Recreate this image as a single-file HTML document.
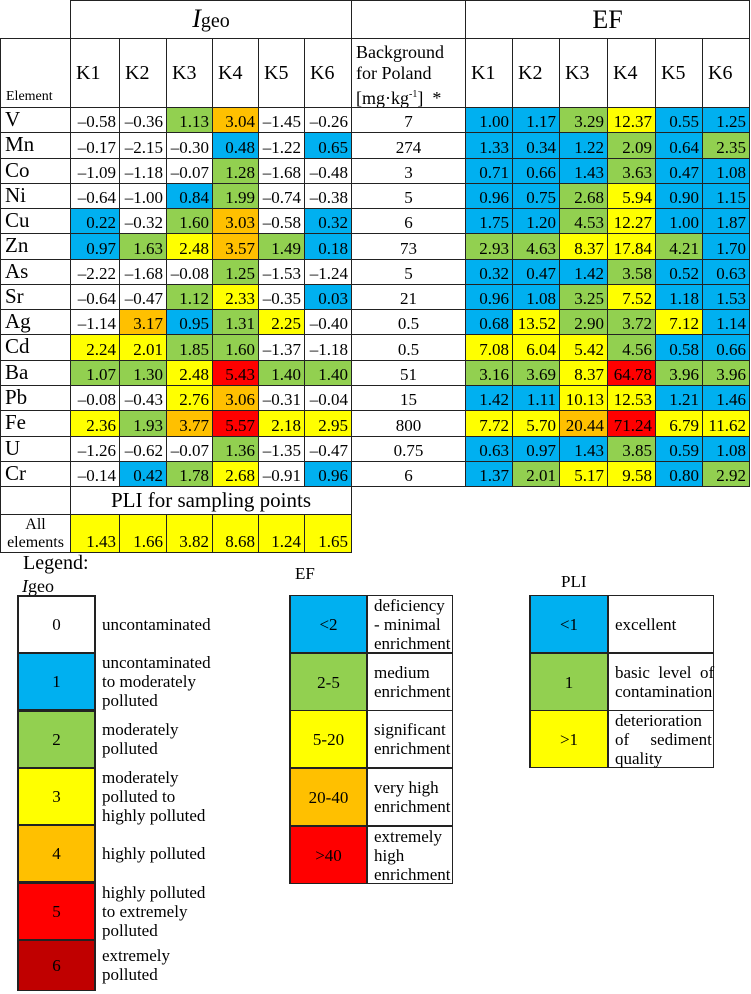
<!DOCTYPE html>
<html><head><meta charset="utf-8">
<style>
body{margin:0;width:751px;height:994px;background:#fff;position:relative;overflow:hidden;font-family:"Liberation Serif",serif;color:#000}
.c{position:absolute;box-sizing:border-box;border:1px solid #222;display:flex;font-size:17px;line-height:1}
.n{justify-content:flex-end;align-items:flex-end;padding:0 3px 2px 0}
.t{position:absolute;font-size:17px;line-height:20px}
.w{background:#fff}.b{background:#00b0f0}.g{background:#92d050}.y{background:#ffff00}.o{background:#ffc000}.r{background:#ff0000}.d{background:#c00000}
</style></head><body>
<div id="root"></div>
<script>
const elements=["V","Mn","Co","Ni","Cu","Zn","As","Sr","Ag","Cd","Ba","Pb","Fe","U","Cr"];
const sites=["K1","K2","K3","K4","K5","K6"];
const background=["7","274","3","5","6","73","5","21","0.5","0.5","51","15","800","0.75","6"];
const igeoValues=[
[-0.58,-0.36,1.13,3.04,-1.45,-0.26],[-0.17,-2.15,-0.30,0.48,-1.22,0.65],[-1.09,-1.18,-0.07,1.28,-1.68,-0.48],
[-0.64,-1.00,0.84,1.99,-0.74,-0.38],[0.22,-0.32,1.60,3.03,-0.58,0.32],[0.97,1.63,2.48,3.57,1.49,0.18],
[-2.22,-1.68,-0.08,1.25,-1.53,-1.24],[-0.64,-0.47,1.12,2.33,-0.35,0.03],[-1.14,3.17,0.95,1.31,2.25,-0.40],
[2.24,2.01,1.85,1.60,-1.37,-1.18],[1.07,1.30,2.48,5.43,1.40,1.40],[-0.08,-0.43,2.76,3.06,-0.31,-0.04],
[2.36,1.93,3.77,5.57,2.18,2.95],[-1.26,-0.62,-0.07,1.36,-1.35,-0.47],[-0.14,0.42,1.78,2.68,-0.91,0.96]];
const efValues=[
[1.00,1.17,3.29,12.37,0.55,1.25],[1.33,0.34,1.22,2.09,0.64,2.35],[0.71,0.66,1.43,3.63,0.47,1.08],
[0.96,0.75,2.68,5.94,0.90,1.15],[1.75,1.20,4.53,12.27,1.00,1.87],[2.93,4.63,8.37,17.84,4.21,1.70],
[0.32,0.47,1.42,3.58,0.52,0.63],[0.96,1.08,3.25,7.52,1.18,1.53],[0.68,13.52,2.90,3.72,7.12,1.14],
[7.08,6.04,5.42,4.56,0.58,0.66],[3.16,3.69,8.37,64.78,3.96,3.96],[1.42,1.11,10.13,12.53,1.21,1.46],
[7.72,5.70,20.44,71.24,6.79,11.62],[0.63,0.97,1.43,3.85,0.59,1.08],[1.37,2.01,5.17,9.58,0.80,2.92]];
const pliValues=[1.43,1.66,3.82,8.68,1.24,1.65];

const root=document.getElementById('root');
function cell(x,y,w,h,cls,html,name){
  const d=document.createElement('div');
  d.className='c '+cls;
  d.style.left=x+'px';d.style.top=y+'px';d.style.width=(w+1)+'px';d.style.height=(h+1)+'px';
  d.innerHTML=html;
  
  
  root.appendChild(d);return d;
}
function igeoCls2(v){return v<0?'w':v<1?'b':v<2?'g':v<3?'y':v<4?'o':'r';}
function efCls(v){return v<2?'b':v<5?'g':v<20?'y':v<40?'o':'r';}
function fmt(v){return v<0?'\u2013'+Math.abs(v).toFixed(2):v.toFixed(2);}
const igX=[70,119,166,212,258,304,351], efX=[465,512,559,607,655,702,749];
const rowTop=107, rowH=25.27;
cell(70,0,281,38,'','<div style="width:100%;text-align:center;font-size:26px;margin-top:5px"><i>I</i><span style="font-size:20px">geo</span></div>','igeo-header');
cell(351,0,114,38,'','','background-header-top');
cell(465,0,284,38,'','<div style="width:100%;text-align:center;font-size:26px;margin-top:6px">EF</div>','ef-header');
cell(0,38,70,69,'','<div style="align-self:flex-end;font-size:14px;padding:0 0 3px 5px">Element</div>','element-column-header');
sites.forEach((s,i)=>{
  cell(igX[i],38,igX[i+1]-igX[i],69,'','<div style="align-self:center;font-size:20px;padding-left:5px">'+s+'</div>','igeo-site-'+s.toLowerCase());
  cell(efX[i],38,efX[i+1]-efX[i],69,'','<div style="align-self:center;font-size:20px;padding-left:5px">'+s+'</div>','ef-site-'+s.toLowerCase());
});
cell(351,38,114,69,'','<div style="font-size:18px;line-height:21px;padding:3px 0 0 4px;white-space:nowrap">Background<br>for Poland<br>[mg·kg<sup style="font-size:10px">-1</sup>]&nbsp; *</div>','background-header');
elements.forEach((e,r)=>{
  const y=Math.round(rowTop+r*rowH), h=Math.round(rowTop+(r+1)*rowH)-y;
  cell(0,y,70,h,'','<div style="font-size:21px;padding:1px 0 0 4px">'+e+'</div>','element-'+e.toLowerCase());
  igeoValues[r].forEach((v,i)=>cell(igX[i],y,igX[i+1]-igX[i],h,'n '+igeoCls2(v),fmt(v),'igeo-'+e.toLowerCase()+'-'+sites[i].toLowerCase()));
  cell(351,y,114,h,'','<div style="width:100%;text-align:center;align-self:flex-end;padding-bottom:2px">'+background[r]+'</div>','background-'+e.toLowerCase());
  efValues[r].forEach((v,i)=>cell(efX[i],y,efX[i+1]-efX[i],h,'n '+efCls(v),fmt(v),'ef-'+e.toLowerCase()+'-'+sites[i].toLowerCase()));
});
cell(0,486,70,28,'','','pli-blank');
cell(70,486,281,28,'','<div style="width:100%;text-align:center;font-size:21px;padding-top:3px">PLI for sampling points</div>','pli-header');
cell(0,514,70,38,'','<div style="width:100%;text-align:center;font-size:16px;line-height:18px;padding-top:1px">All<br>elements</div>','pli-all-elements');
pliValues.forEach((v,i)=>cell(igX[i],514,igX[i+1]-igX[i],38,'n y',v.toFixed(2),'pli-'+sites[i].toLowerCase()));
</script>
<div class="t" style="left:23px;top:553px;font-size:20px">Legend:</div>
<div class="t" style="left:22px;top:576px;font-size:18px"><i>I</i>geo</div>
<div class="t" style="left:295px;top:564px">EF</div>
<div class="t" style="left:561px;top:572px">PLI</div>
<div id="leg"></div>
<script>
const igeoLegend=[["0","w","uncontaminated"],["1","b","uncontaminated<br>to moderately<br>polluted"],["2","g","moderately<br>polluted"],["3","y","moderately<br>polluted to<br>highly polluted"],["4","o","highly polluted"],["5","r","highly polluted<br>to extremely<br>polluted"],["6","d","extremely<br>polluted"]];
const efLegend=[["&lt;2","b","deficiency<br>- minimal<br>enrichment"],["2-5","g","medium<br>enrichment"],["5-20","y","significant<br>enrichment"],["20-40","o","very high<br>enrichment"],["&gt;40","r","extremely<br>high<br>enrichment"]];
const pliLegend=[["&lt;1","b","excellent"],["1","g","basic&nbsp; level&nbsp; of<br>contamination"],["&gt;1","y","deterioration<br>of&nbsp;&nbsp;&nbsp;&nbsp; sediment<br>quality"]];
const leg=document.getElementById('leg');
function lrow(x,y,w,h,tw,lab,cls,txt,name,bordered){
  const b=document.createElement('div');
  b.className='c '+cls;
  b.style.cssText+='left:'+x+'px;top:'+y+'px;width:'+(w+1)+'px;height:'+(h+1)+'px;justify-content:center;align-items:center;font-size:17px;border-width:'+(bordered?1:2)+'px 2px 1px 2px';
  b.innerHTML=lab;
  
  
  leg.appendChild(b);
  const t=document.createElement('div');
  t.className='c';
  t.style.cssText+='left:'+(x+w)+'px;top:'+y+'px;width:'+(tw+1)+'px;height:'+(h+1)+'px;align-items:center;font-size:17px;line-height:19px;padding-left:6px;white-space:nowrap;'+(bordered?'':'border-color:transparent');
  t.innerHTML='<div>'+txt+'</div>';
  
  
  leg.appendChild(t);
}
igeoLegend.forEach((l,i)=>{const y=595+Math.round(i*57.3);lrow(17,y,78,i==6?51:57,140,l[0],l[1],l[2],'igeo-legend-'+l[0],false);});
efLegend.forEach((l,i)=>{const y=595+Math.round(i*57.7);lrow(289,y,78,57,85,l[0],l[1],l[2],'ef-legend-'+i,true);});
pliLegend.forEach((l,i)=>{const y=595+Math.round(i*57.7);lrow(529,y,79,57,105,l[0],l[1],l[2],'pli-legend-'+i,true);});
</script>
</body></html>
